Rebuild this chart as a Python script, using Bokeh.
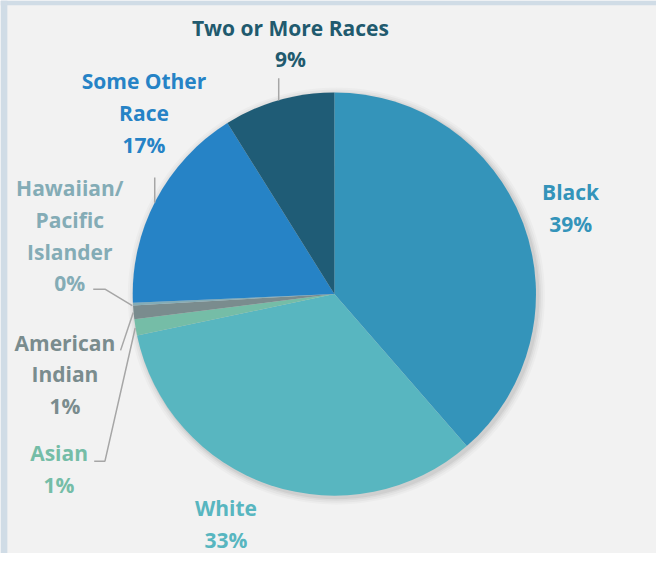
import numpy as np
from bokeh.plotting import figure
from bokeh.models import ColumnDataSource
from bokeh.core.properties import value
from bokeh.embed import file_html
from bokeh.resources import INLINE

# ---- data ----
races = ["Black", "White", "Asian", "American Indian", "Hawaiian/Pacific Islander",
         "Some Other Race", "Two or More Races"]
shares = [38.6, 33.1, 1.3, 1.1, 0.2, 16.8, 8.9]
pct_labels = ["39%", "33%", "1%", "1%", "0%", "17%", "9%"]
colors = ["#3494BA", "#58B6C0", "#75BDA7", "#7A8C8E", "#84ACB6", "#2683C6", "#1F5C76"]
text_colors = ["#3494BA", "#58B6C0", "#75BDA7", "#7A8C8E", "#84ACB6", "#2683C6", "#215A6E"]

W, H = 656, 553
SX, SY = W / 672, H / 569
def X(sx):
    return sx * SX
def Y(sy):
    return H - sy * SY

p = figure(width=W, height=H, x_range=(0, W), y_range=(0, H),
           output_backend="svg", toolbar_location=None, min_border=0)
p.axis.visible = False
p.grid.visible = False
p.outline_line_color = None
p.background_fill_color = "#F2F2F2"
p.border_fill_color = "#F2F2F2"

# frame strips like the reference
p.quad(left=[X(0)], right=[X(672)], top=[Y(0)], bottom=[Y(5)], fill_color="#D0DCE6", line_color=None)
p.quad(left=[X(0)], right=[X(7)], top=[Y(0)], bottom=[Y(569)], fill_color="#D0DCE6", line_color=None)

cx, cy, r = X(342), Y(302), 207 * (SX + SY) / 2

# soft shadow
for k, a in [(7, 0.025), (5, 0.03), (3, 0.04), (1.5, 0.05)]:
    p.circle(x=[cx + 2], y=[cy - 2], radius=r + k, fill_color="black", fill_alpha=a, line_color=None)

vals = np.array(shares, dtype=float)
frac = vals / vals.sum()
cum = np.concatenate([[0], np.cumsum(frac)]) * 2 * np.pi
# clockwise from top
starts = np.pi / 2 - cum[1:]
ends = np.pi / 2 - cum[:-1]
src = ColumnDataSource(dict(start=starts, end=ends, color=colors))
p.wedge(x=cx, y=cy, radius=r, start_angle="start", end_angle="end",
        fill_color="color", line_color=None, source=src)

# leader lines (reference pixel coords)
leaders = [
    [(285, 80), (285, 103)],
    [(158, 182), (158, 208)],
    [(95, 297), (107, 297), (135, 314)],
    [(123, 360), (136, 321)],
    [(96, 474), (107, 474), (138, 337)],
]
p.multi_line(xs=[[X(a) for a, b in l] for l in leaders],
             ys=[[Y(b) for a, b in l] for l in leaders],
             line_color="#A6A6A6", line_width=1.5)

# labels: (lines, center x, first-line y)
label_pos = {
    "Black": (["Black"], 584, 197),
    "White": (["White"], 231, 522),
    "Asian": (["Asian"], 60, 466),
    "American Indian": (["American", "Indian"], 66, 352),
    "Hawaiian/Pacific Islander": (["Hawaiian/", "Pacific", "Islander"], 71, 193),
    "Some Other Race": (["Some Other", "Race"], 147, 83),
    "Two or More Races": (["Two or More Races"], 297, 28),
}
step = 32.7
tx, ty, tt, tc = [], [], [], []
for i, race in enumerate(races):
    lines, sx, sy = label_pos[race]
    lines = lines + [pct_labels[i]]
    for j, ln in enumerate(lines):
        tx.append(X(sx)); ty.append(Y(sy + j * step)); tt.append(ln); tc.append(text_colors[i])
p.text(x=tx, y=ty, text=tt, text_color=tc, text_align="center", text_baseline="middle",
       text_font=value("Open Sans"), text_font_style="bold", text_font_size="21px")

open("out.html", "w").write(file_html(p, INLINE))
